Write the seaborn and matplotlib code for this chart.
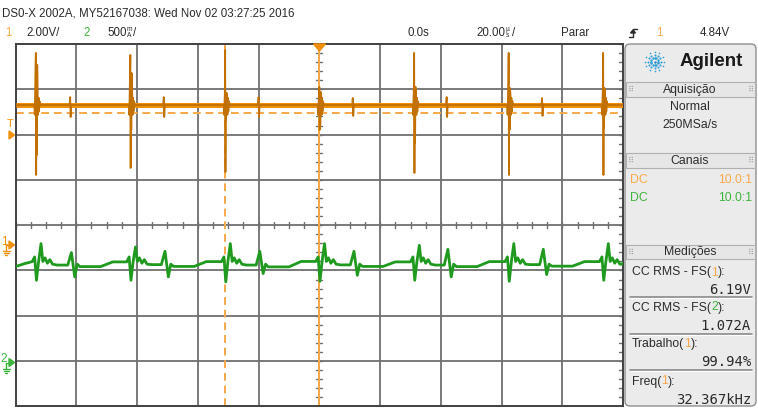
import matplotlib.pyplot as plt
import numpy as np
import pandas as pd
import seaborn as sns
from matplotlib.patches import FancyBboxPatch, Polygon, Rectangle

# values
# channel 1 (V): main switching spikes and the small ones in between
main_t = [-93.3, -62.2, -31.0, 0.0, 31.2, 62.3, 93.4]          # us
main_top = [8.48, 8.39, 8.61, 6.98, 8.48, 8.48, 8.48]
main_bot = [3.09, 3.40, 3.22, 5.08, 3.18, 3.09, 3.09]
ring_hi = [7.95, 7.59, 6.71, 6.75, 6.98, 6.93, 6.93]
ring_lo = [3.97, 5.08, 5.52, 5.30, 4.50, 5.08, 5.17]
ring_small = [6.65, 5.75, 6.50, 5.90, 6.35]
small_t = [-82.0, -51.2, -20.0, 11.0, 41.9, 73.3]
small_top = [6.53, 6.53, 6.53, 6.49, 6.53, 6.49]
small_bot = [5.65, 5.65, 5.65, 5.70, 5.65, 5.70]
ch1_level = 6.18

# channel 2 (A)
green_dip = [0.892, 0.892, 0.874, 0.881, 0.892, 0.881, 0.892]
green_peak = [1.297, 1.260, 1.297, 1.297, 1.278, 1.297, 1.297]
green_up = [1.198, 1.212, 1.212, 1.212, 1.234, 1.234]
green_dn = [0.929, 0.929, 0.966, 0.947, 0.929, 0.955]
green_pre = [1.098, 1.095, 1.098, 1.100, 1.095, 1.098, 1.098]
green_mid = [1.060, 1.065, 1.060, 1.062, 1.060, 1.065]
green_post = [1.043, 1.045, 1.040, 1.045, 1.043, 1.048]
green_ring = [1.10, 1.14, 1.08, 1.12, 1.07]

ch1_scale, ch1_off = 2.0, -0.437     # V/div, ground in div
ch2_scale, ch2_off = 0.5, -3.0       # A/div
cursor_v = 5.83
cursor_t = -30.9

ORANGE = "#f0900a"
ORANGE_D = "#c27000"
ORANGE_L = "#f8a84a"
GREEN = "#1f9a1f"
GREEN_L = "#3cb43c"
GRID = "#6f6f6f"
TXT = "#2b2b2b"

# build the traces from the read points
ot, ov = [-100.0], [ch1_level]
ev = [(t, "m", k) for k, t in enumerate(main_t)] + [(t, "s", k) for k, t in enumerate(small_t)]
for t, kind, k in sorted(ev):
    if kind == "m":
        ot += [t - 0.5, t - 0.35, t - 0.1, t, t + 0.1, t + 0.2, t + 0.3, t + 0.45,
               t + 0.6, t + 0.75, t + 0.9, t + 1.05, t + 1.2, t + 1.5]
        ov += [ch1_level, ring_small[1], ring_hi[k], main_top[k], main_bot[k], ring_hi[k], ring_lo[k],
               ring_hi[k]] + ring_small + [ch1_level]
    else:
        ot += [t - 0.2, t, t + 0.15, t + 0.35]
        ov += [ch1_level, small_top[k], small_bot[k], ch1_level]
ot.append(100.0)
ov.append(ch1_level)
df1 = pd.DataFrame({"t": ot, "div": np.array(ov) / ch1_scale + ch1_off})

gt, ga = [-100.0, -97.0], [1.043, 1.076]
for k, t in enumerate(main_t):
    gt += [t - 1.2, t - 0.4, t + 0.2, t + 0.9, t + 1.7, t + 2.3, t + 3.0, t + 3.8, t + 4.6, t + 5.5, t + 7.0]
    ga += [green_pre[k], 1.15, green_dip[k], green_pre[k], green_peak[k]] + green_ring + [green_mid[k] if k < 6 else 1.07]
    if k < 6:
        s = small_t[k]
        gt += [s - 0.8, s + 0.4, s + 1.5, s + 2.3, s + 3.2, s + 10.0, s + 14.0]
        ga += [green_mid[k], green_up[k], green_dn[k], 1.07, green_post[k], green_post[k], green_pre[k + 1]]
gt += [100.0]
ga += [1.09]
df2 = pd.DataFrame({"t": gt, "div": np.array(ga) / ch2_scale + ch2_off})

sns.set_style("white")
plt.rcParams["font.family"] = ["Liberation Sans", "DejaVu Sans"]

W, H = 758, 408
fig = plt.figure(figsize=(W / 100, H / 100), dpi=100)
x0, x1, y0, y1 = 15.5, 623.2, 44.0, 406.4
ax = fig.add_axes([x0 / W, 1 - y1 / H, (x1 - x0) / W, (y1 - y0) / H])
ax.set_xlim(-100, 100)
ax.set_ylim(-4, 4)
ax.set_xticks([])
ax.set_yticks([])
for s in ax.spines.values():
    s.set_color("#404040")
    s.set_linewidth(1.4)

for i in range(-4, 5):
    ax.axvline(i * 20, color=GRID, lw=1.3, zorder=1)
for j in range(-3, 4):
    ax.axhline(j, color=GRID, lw=1.3, zorder=1)
# minor ticks on center lines and right edge
for tx in np.arange(-100, 101, 5):
    ax.plot([tx, tx], [-0.06, 0.06], color=GRID, lw=1, zorder=1)
for ty in np.arange(-4, 4.01, 0.2):
    ax.plot([-1.0, 1.0], [ty, ty], color=GRID, lw=1, zorder=1)
    ax.plot([98.7, 100], [ty, ty], color=GRID, lw=1, zorder=1)
ax.axvline(0, color=ORANGE_L, lw=1.4, zorder=2)
ax.axhline(cursor_v / ch1_scale + ch1_off, color=ORANGE_L, lw=1.4, ls=(0, (4, 2.5)), zorder=2)
ax.axvline(cursor_t, color=ORANGE_L, lw=1.4, ls=(0, (4, 2.5)), zorder=2)

# thick baseline band and detailed trace
ax.plot([-100, 100], [ch1_level / ch1_scale + ch1_off] * 2, color=ORANGE, lw=3.6, zorder=3, solid_capstyle="butt")
sns.lineplot(data=df1, x="t", y="div", sort=False, estimator=None, color=ORANGE_D, lw=1.3, ax=ax, zorder=4)
sns.lineplot(data=df2, x="t", y="div", sort=False, estimator=None, color=GREEN, lw=2.0, ax=ax, zorder=4)
ax.set_xlabel("")
ax.set_ylabel("")

# overlay in pixel coordinates for screen furniture
o = fig.add_axes([0, 0, 1, 1])
o.set_xlim(0, W)
o.set_ylim(H, 0)
o.axis("off")
o.patch.set_alpha(0)
r = fig.canvas.get_renderer()


def put(x, y, parts, size=8.3, ha="left", family=None, weight="normal"):
    kw = dict(fontsize=size, va="center", weight=weight)
    if family:
        kw["family"] = family
    items = []
    for s, c in parts:
        items.append(o.text(0, y, s, color=c, **kw))
    widths = [it.get_window_extent(r).width for it in items]
    start = x if ha == "left" else (x - sum(widths) if ha == "right" else x - sum(widths) / 2)
    for it, w in zip(items, widths):
        it.set_x(start)
        start += w
    return start


def stacked(x, top, bot):
    o.text(x, 32.5, top + "\n" + bot, fontsize=4.8, color=TXT, ha="left", va="center", linespacing=0.85)
    return x + 6


# header
put(2, 14, [("DS0-X 2002A, MY52167038: Wed Nov 02 03:27:25 2016", TXT)])
put(5, 33, [("1", ORANGE_L)])
put(26, 33, [("2.00V/", TXT)])
put(83, 33, [("2", GREEN_L)])
e = put(107, 33, [("500", TXT)])
put(stacked(e + 0.5, "m", "A"), 33, [("/", TXT)])
put(408, 33, [("0.0s", TXT)])
e = put(476, 33, [("20.00", TXT)])
put(stacked(e + 0.5, "µ", "s"), 33, [("/", TXT)])
put(561, 33, [("Parar", TXT)])
o.plot([629, 633, 633, 637], [37, 37, 29, 29], color=TXT, lw=1)
o.add_patch(Polygon([[630.5, 33], [635.5, 33], [633, 30]], color=TXT))
put(656, 33, [("1", ORANGE_L)])
put(700, 33, [("4.84V", TXT)])

# markers on the graticule
o.add_patch(Polygon([[313.5, 44], [325.5, 44], [319.5, 51]], color=ORANGE))
o.text(10, 124, "T", fontsize=8, color=ORANGE, ha="center", va="center")
o.add_patch(Polygon([[9, 131], [9, 139], [14.5, 135]], color=ORANGE))
for yy, lab, col in [(245, "1", ORANGE), (362.5, "2", GREEN_L)]:
    o.text(4, yy - 3, lab, fontsize=8.5, color=col, ha="center", va="center")
    o.add_patch(Polygon([[9, yy - 4], [9, yy + 4], [14.5, yy]], color=col))
    o.plot([6, 6], [yy, yy + 6], color=col, lw=1)
    o.plot([6, 9], [yy, yy], color=col, lw=1)
    o.plot([2.5, 9.5], [yy + 6, yy + 6], color=col, lw=1)
    o.plot([3.5, 8.5], [yy + 8, yy + 8], color=col, lw=1)
    o.plot([5, 7], [yy + 10, yy + 10], color=col, lw=1)

# side panel
o.add_patch(FancyBboxPatch((625, 44), 131, 362, boxstyle="round,pad=0,rounding_size=5",
                           fc="#ebebeb", ec="#8f8f8f", lw=1))
for top, bot, title in [(82, 97, "Aquisição"), (153, 168, "Canais"), (245, 259, "Medições")]:
    o.add_patch(Rectangle((626, top), 129, bot - top, fc="#e6e6e6", ec="#b0b0b0", lw=0.8))
    o.text(690, (top + bot) / 2, title, fontsize=8.8, color=TXT, ha="center", va="center")
    for gx in (631, 751):
        o.text(gx, (top + bot) / 2, "⠿", fontsize=6, color="#a0a0a0", ha="center", va="center",
               family="DejaVu Sans")

# Agilent spark
cx, cy = 654.5, 61.5
for a in np.deg2rad(np.arange(0, 360, 30)):
    for rr, sz in [(3.5, 3.0), (6.5, 2.2), (9.5, 1.4)]:
        o.scatter(cx + rr * np.cos(a), cy + rr * np.sin(a), s=sz, color="#2f9fd8", lw=0)
o.scatter(cx, cy, s=3, color="#1c7fc0", lw=0)
put(711, 61, [("Agilent", "#1a1a1a")], size=13.5, ha="center", weight="bold")

o.text(690, 106.5, "Normal", fontsize=8.8, color=TXT, ha="center", va="center")
o.text(690, 125, "250MSa/s", fontsize=8.8, color=TXT, ha="center", va="center")
put(630, 180, [("DC", ORANGE_L)], size=8.8)
put(752, 180, [("10.0:1", ORANGE_L)], size=8.8, ha="right")
put(630, 198, [("DC", GREEN_L)], size=8.8)
put(752, 198, [("10.0:1", GREEN_L)], size=8.8, ha="right")

mono = ["DejaVu Sans Mono"]
put(632, 272.5, [("CC RMS - FS(", TXT), ("1", ORANGE_L), ("):", TXT)], size=8.8)
put(751, 289.5, [("6.19V", TXT)], ha="right", family=mono, size=10)
put(632, 307.5, [("CC RMS - FS(", TXT), ("2", GREEN_L), ("):", TXT)], size=8.8)
put(751, 326, [("1.072A", TXT)], ha="right", family=mono, size=10)
put(632, 344, [("Trabalho(", TXT), ("1", ORANGE_L), ("):", TXT)], size=8.8)
put(751, 362, [("99.94%", TXT)], ha="right", family=mono, size=10)
put(632, 381.5, [("Freq(", TXT), ("1", ORANGE_L), ("):", TXT)], size=8.8)
put(751, 400, [("32.367kHz", TXT)], ha="right", family=mono, size=10)
for yy in (297, 334, 370):
    o.plot([630, 752], [yy, yy], color="#808080", lw=1.1)
    o.plot([630, 752], [yy + 1.2, yy + 1.2], color="#ffffff", lw=0.8)

fig.savefig("out.png", dpi=100)
